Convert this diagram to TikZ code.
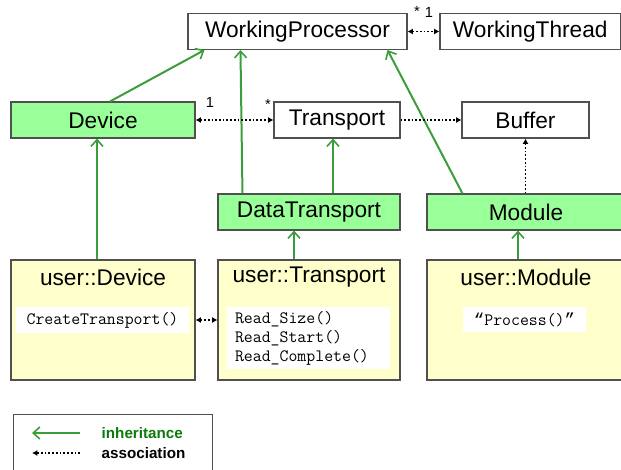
\documentclass[tikz,border=0pt]{standalone}
\usepackage{fontspec}
\setmainfont{Liberation Sans}
\newfontfamily\quotemono{Liberation Mono}
\usetikzlibrary{arrows.meta,calc}
\definecolor{classgreen}{HTML}{99FF99}
\definecolor{usercolor}{HTML}{FFFFCC}
\definecolor{inhgreen}{HTML}{3A9E3A}
\definecolor{legendgreen}{HTML}{0A7A0A}
\definecolor{frame}{HTML}{505050}

\begin{document}
\begin{tikzpicture}[x=0.75pt, y=-0.75pt,
  every node/.style={font=\fontsize{17}{20}\selectfont},
  base/.style={draw=frame, fill=white, line width=0.8pt, minimum height=27pt, inner sep=0pt},
  sub/.style={base, fill=classgreen},
  user/.style={draw=frame, fill=usercolor, line width=0.8pt, minimum height=90pt, inner sep=0pt},
  method/.style={fill=white, inner sep=0pt, font=\fontsize{13}{14.25}\selectfont\ttfamily},
  mult/.style={font=\fontsize{11}{13}\selectfont},
  legendtext/.style={anchor=west, font=\fontsize{11.4}{13}\selectfont\bfseries},
  ahead/.tip={Latex[length=4pt, width=4.5pt]},
  inherit/.style={-{Straight Barb[length=5pt, width=9pt, line width=1.2pt]}, line width=1.5pt, color=inhgreen},
  assoc/.style={-ahead, line width=1.3pt, dash pattern=on 1.3pt off 1.5pt},
  both/.style={assoc, ahead-ahead}
]
\useasboundingbox (0,0) rectangle (621,469);

% Library classes
\node[base, minimum width=164.25pt] (wp) at (297.5,31.5) {WorkingProcessor};
\node[base, minimum width=135.4pt] (wt) at (530.25,31.5) {WorkingThread};
\node[sub, minimum width=138pt] (dev) at (103,120) {Device};
\node[base, minimum width=94.5pt] (tr) at (337,120) {Transport};
\node[base, minimum width=95.25pt] (buf) at (525.5,120) {Buffer};
\node[sub, minimum width=136.5pt] (dt) at (309,212) {DataTransport};
\node[sub, minimum width=148.5pt] (mod) at (526,212) {Module};

% User classes
\node[user, minimum width=138pt] (udev) at (103,320) {};
\node[user, minimum width=136.5pt] (utr) at (309,320) {};
\node[user, minimum width=148.5pt] (umod) at (526,320) {};
\node (udevt) at ($(udev.north)+(0,18)$) {user::Device};
\node (utrt) at ($(utr.north)+(0,18)$) {user::Transport};
\node (umodt) at ($(umod.north)+(0,18)$) {user::Module};

% Methods
\node[method, minimum width=129.75pt, minimum height=19.5pt] (create) at (102.5,320) {CreateTransport()};
\node[method, text width=110.25pt, inner xsep=6pt, minimum height=46.5pt, align=left] (reads) at (308.5,338)
  {Read\_Size()\\Read\_Start()\\Read\_Complete()};
\node[method, minimum width=92.25pt, minimum height=18.75pt] (proc) at (524.5,319.5) {{\quotemono“}Process(){\quotemono”}};

% Multiplicities
\node[mult] (m1) at (210,102) {1};
\node[mult] (m2) at (268,104) {*};
\node[mult] (m3) at (417,11) {*};
\node[mult] (m4) at (429,12) {1};

% Inheritance
\draw[inherit] ($(dev.north)+(7,0)$) -- ($(wp.south west)+(17,0)$);
\draw[inherit] ($(dt.north west)+(25,0)$) -- ($(wp.south west)+(53,0)$);
\draw[inherit] ($(mod.north west)+(36,0)$) -- ($(wp.south east)+(-20,0)$);
\draw[inherit] ($(dt.north)+(24,0)$) -- ($(tr.south)+(-4,0)$);
\draw[inherit] ($(udev.north)+(-6,0)$) -- ($(dev.south)+(-6,0)$);
\draw[inherit] ($(utr.north)+(-15,0)$) -- ($(dt.south)+(-15,0)$);
\draw[inherit] ($(umod.north)+(-8,0)$) -- ($(mod.south)+(-8,0)$);

% Associations
\draw[both] (wp.east) -- (wt.west);
\draw[both] (dev.east) -- (tr.west);
\draw[assoc] (tr.east) -- (buf.west);
\draw[assoc] (mod.north -| buf.south) -- (buf.south);
\draw[both] (udev.east) -- (utr.west);

% Legend
\node[draw=frame, line width=0.8pt, minimum width=149.25pt, minimum height=48pt, anchor=north west, inner sep=0pt] (legend) at (13,414) {};
\coordinate (inhA) at (80,433);
\coordinate (inhB) at (32,433);
\coordinate (assA) at (80,453);
\coordinate (assB) at (32,453);
\draw[inherit] (inhA) -- (inhB);
\draw[assoc] (assA) -- (assB);
\node[legendtext, color=legendgreen] (inhtxt) at (97,433) {inheritance};
\node[legendtext] (asstxt) at (97,453) {association};

\end{tikzpicture}
\end{document}
